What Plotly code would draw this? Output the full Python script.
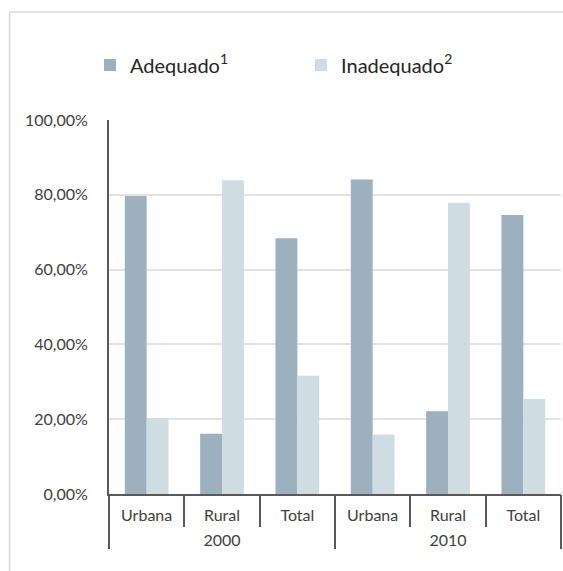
import plotly.graph_objects as go

years = ["2000", "2000", "2000", "2010", "2010", "2010"]
areas = ["Urbana", "Rural", "Total", "Urbana", "Rural", "Total"]
year_groups = ["2000", "2010"]

adequado = [79.7, 16.1, 68.4, 84.1, 22.1, 74.6]
inadequado = [20.3, 83.9, 31.6, 15.9, 77.9, 25.4]

y_ticks = [0, 20, 40, 60, 80, 100]
y_tick_labels = ["0,00%", "20,00%", "40,00%", "60,00%", "80,00%", "100,00%"]

# unique category keys, shown with the area names
x_keys = [f"{a} {y}" for a, y in zip(areas, years)]

axis_color = "#595959"
text_color = "#404040"
frame_color = "#D9D9D9"

fig = go.Figure()

fig.add_trace(
    go.Bar(
        x=x_keys,
        y=adequado,
        name="Adequado<sup>1</sup>",
        marker=dict(color="#9CB0BF", line=dict(width=0))
    )
)

fig.add_trace(
    go.Bar(
        x=x_keys,
        y=inadequado,
        name="Inadequado<sup>2</sup>",
        marker=dict(color="#CFDCE2", line=dict(width=0))
    )
)

# carrier for the year axis
fig.add_trace(
    go.Scatter(
        x=year_groups,
        y=[0, 0],
        xaxis="x2",
        mode="markers",
        marker=dict(opacity=0),
        showlegend=False,
        hoverinfo="skip"
    )
)

fig.update_layout(
    width=563,
    height=571,
    margin=dict(l=109, r=2, t=120, b=77),
    paper_bgcolor="white",
    plot_bgcolor="white",
    barmode="group",
    bargap=0.42,
    bargroupgap=0,
    font=dict(family="Lato", size=16, color=text_color),
    legend=dict(
        orientation="h",
        x=-0.042,
        y=1.147,
        xanchor="left",
        yanchor="middle",
        entrywidth=166,
        font=dict(size=20, color="#262626")
    ),
    xaxis=dict(
        type="category",
        tickvals=x_keys,
        ticktext=areas,
        showline=True,
        linecolor=axis_color,
        linewidth=2,
        ticks="outside",
        tickson="boundaries",
        ticklen=31,
        tickcolor=axis_color,
        tickwidth=1.5,
        ticklabelstandoff=6,
        showgrid=False,
        tickfont=dict(size=16, color=text_color)
    ),
    xaxis2=dict(
        type="category",
        overlaying="x",
        anchor="y",
        side="bottom",
        range=[-0.5, 1.5],
        showline=False,
        ticks="outside",
        tickson="boundaries",
        ticklen=54,
        tickcolor=axis_color,
        tickwidth=1.5,
        ticklabelstandoff=35,
        showgrid=False,
        tickfont=dict(size=16, color=text_color)
    ),
    yaxis=dict(
        range=[0, 100],
        tickvals=y_ticks,
        ticktext=y_tick_labels,
        showgrid=True,
        gridcolor="#E3E3E3",
        gridwidth=1.5,
        showline=True,
        linecolor=axis_color,
        linewidth=2,
        ticks="",
        ticklabelstandoff=16,
        zeroline=False,
        tickfont=dict(size=16, color=text_color)
    ),
    shapes=[
        # outer frame, only top and left edges are visible
        dict(
            type="line",
            xref="paper",
            yref="paper",
            x0=-0.22,
            x1=1.2,
            y0=1.289,
            y1=1.289,
            line=dict(color=frame_color, width=1.5),
            layer="below"
        ),
        dict(
            type="line",
            xref="paper",
            yref="paper",
            x0=-0.22,
            x1=-0.22,
            y0=-0.5,
            y1=1.289,
            line=dict(color=frame_color, width=1.5),
            layer="below"
        )
    ]
)

fig.write_html(
    "out.html",
    config={"displayModeBar": False},
    post_script=(
        "document.body.style.margin = '0';"
        "document.body.style.overflow = 'hidden';"
        "document.documentElement.style.overflow = 'hidden';"
    )
)
